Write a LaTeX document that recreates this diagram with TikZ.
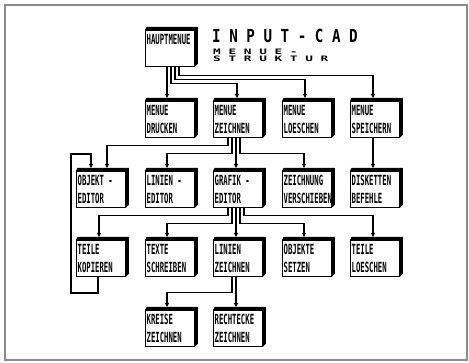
\documentclass[tikz,border=0pt]{standalone}
\usepackage{fontspec}
\newfontfamily\boxfont[FakeStretch=0.52]{DejaVu Sans Mono}
\newfontfamily\titlefont[FakeStretch=0.79]{DejaVu Sans Mono}
\newfontfamily\subfont[FakeStretch=1.7]{DejaVu Sans Mono}
\usetikzlibrary{arrows.meta}
\begin{document}
\begin{tikzpicture}[x=1pt,y=-1pt,
  menubox/.style={draw=black, line width=0.8pt, fill=white, minimum width=49pt,
    minimum height=36pt, inner sep=0pt, anchor=north west},
  lbl/.style={anchor=north west, inner sep=0pt, align=left,
    font=\boxfont\bfseries\fontsize{14}{18}\selectfont},
  conn/.style={line width=1.3pt, -{Triangle[length=4pt,width=4pt]}},
  frame/.style={draw=black!45, line width=1.2pt}]
\useasboundingbox (0,0) rectangle (469,363);
\draw[frame] (5,5) rectangle (467,360);

% boxes
\node[menubox] (hm) at (145,30) {};
\node[menubox] (drucken) at (145,101) {};
\node[menubox] (mz) at (213,101) {};
\node[menubox] (mloeschen) at (282,101) {};
\node[menubox] (speichern) at (350,101) {};
\node[menubox] (objekt) at (76,171) {};
\node[menubox] (ledit) at (145,171) {};
\node[menubox] (grafik) at (213,171) {};
\node[menubox] (verschieben) at (282,171) {};
\node[menubox] (disketten) at (350,171) {};
\node[menubox] (kopieren) at (76,240) {};
\node[menubox] (texte) at (145,240) {};
\node[menubox] (lzeichnen) at (213,240) {};
\node[menubox] (setzen) at (282,240) {};
\node[menubox] (tloeschen) at (350,240) {};
\node[menubox] (kreise) at (145,310) {};
\node[menubox] (rechtecke) at (213,310) {};

% shadows (thick top and right edges)
\foreach \n in {hm,drucken,mz,mloeschen,speichern,objekt,ledit,grafik,verschieben,disketten,kopieren,texte,lzeichnen,setzen,tloeschen,kreise,rechtecke}{
  \fill[black] (\n.north west) -- ([xshift=1.5pt,yshift=3pt]\n.north west)
    -- ([xshift=3pt,yshift=3pt]\n.north east) -- ([xshift=3pt,yshift=3pt]\n.south east)
    -- (\n.south east) -- (\n.north east) -- cycle;
}

% labels
\node[lbl] (hm-t) at ([xshift=1.5pt,yshift=-4pt]hm.north west) {HAUPTMENUE};
\node[lbl] (drucken-t) at ([xshift=1.5pt,yshift=-4pt]drucken.north west) {MENUE\\DRUCKEN};
\node[lbl] (mz-t) at ([xshift=1.5pt,yshift=-4pt]mz.north west) {MENUE\\ZEICHNEN};
\node[lbl] (mloeschen-t) at ([xshift=1.5pt,yshift=-4pt]mloeschen.north west) {MENUE\\LOESCHEN};
\node[lbl] (speichern-t) at ([xshift=1.5pt,yshift=-4pt]speichern.north west) {MENUE\\SPEICHERN};
\node[lbl] (objekt-t) at ([xshift=1.5pt,yshift=-4pt]objekt.north west) {OBJEKT -\\EDITOR};
\node[lbl] (ledit-t) at ([xshift=1.5pt,yshift=-4pt]ledit.north west) {LINIEN -\\EDITOR};
\node[lbl] (grafik-t) at ([xshift=1.5pt,yshift=-4pt]grafik.north west) {GRAFIK -\\EDITOR};
\node[lbl] (verschieben-t) at ([xshift=1.5pt,yshift=-4pt]verschieben.north west) {ZEICHNUNG\\VERSCHIEBEN};
\node[lbl] (disketten-t) at ([xshift=1.5pt,yshift=-4pt]disketten.north west) {DISKETTEN\\BEFEHLE};
\node[lbl] (kopieren-t) at ([xshift=1.5pt,yshift=-4pt]kopieren.north west) {TEILE\\KOPIEREN};
\node[lbl] (texte-t) at ([xshift=1.5pt,yshift=-4pt]texte.north west) {TEXTE\\SCHREIBEN};
\node[lbl] (lzeichnen-t) at ([xshift=1.5pt,yshift=-4pt]lzeichnen.north west) {LINIEN\\ZEICHNEN};
\node[lbl] (setzen-t) at ([xshift=1.5pt,yshift=-4pt]setzen.north west) {OBJEKTE\\SETZEN};
\node[lbl] (tloeschen-t) at ([xshift=1.5pt,yshift=-4pt]tloeschen.north west) {TEILE\\LOESCHEN};
\node[lbl] (kreise-t) at ([xshift=1.5pt,yshift=-4pt]kreise.north west) {KREISE\\ZEICHNEN};
\node[lbl] (rechtecke-t) at ([xshift=1.5pt,yshift=-4pt]rechtecke.north west) {RECHTECKE\\ZEICHNEN};

% title
\node[anchor=north west, inner sep=0pt, font=\titlefont\bfseries\fontsize{18}{18}\selectfont]
  (title) at (212,29) {I N P U T - C A D};
\node[anchor=north west, inner sep=0pt, align=left, font=\subfont\bfseries\fontsize{7.5}{6.5}\selectfont]
  (subtitle) at (213,49) {M E N U E -\\S T R U K T U R};

% connectors from HAUPTMENUE
\draw[conn] ([xshift=22pt]hm.south west) -- ([xshift=22pt,yshift=3pt]drucken.north west);
\draw[conn] ([xshift=26pt]hm.south west) -- ++(0,17) -| ([xshift=24pt,yshift=3pt]mz.north west);
\draw[conn] ([xshift=30pt]hm.south west) -- ++(0,13) -| ([xshift=23pt,yshift=3pt]mloeschen.north west);
\draw[conn] ([xshift=34pt]hm.south west) -- ++(0,9) -| ([xshift=23pt,yshift=3pt]speichern.north west);

% connectors from MENUE ZEICHNEN
\draw[conn] ([xshift=15pt]mz.south west) -- ++(0,8) -| ([xshift=31pt,yshift=3pt]objekt.north west);
\draw[conn] ([xshift=19pt]mz.south west) -- ++(0,16) -| ([xshift=22pt,yshift=3pt]ledit.north west);
\draw[conn] ([xshift=23pt]mz.south west) -- ([xshift=23pt,yshift=3pt]grafik.north west);
\draw[conn] ([xshift=27pt]mz.south west) -- ++(0,16) -| ([xshift=22pt,yshift=3pt]verschieben.north west);

% MENUE SPEICHERN -> DISKETTEN BEFEHLE
\draw[conn] ([xshift=23pt]speichern.south west) -- ([xshift=23pt,yshift=3pt]disketten.north west);

% connectors from GRAFIK-EDITOR
\draw[conn] ([xshift=15pt]grafik.south west) -- ++(0,8) -| ([xshift=23pt,yshift=3pt]kopieren.north west);
\draw[conn] ([xshift=19pt]grafik.south west) -- ++(0,16) -| ([xshift=22pt,yshift=3pt]texte.north west);
\draw[conn] ([xshift=23pt]grafik.south west) -- ([xshift=23pt,yshift=3pt]lzeichnen.north west);
\draw[conn] ([xshift=27pt]grafik.south west) -- ++(0,16) -| ([xshift=22pt,yshift=3pt]setzen.north west);
\draw[conn] ([xshift=31pt]grafik.south west) -- ++(0,8) -| ([xshift=23pt,yshift=3pt]tloeschen.north west);

% connectors from LINIEN ZEICHNEN
\draw[conn] ([xshift=19pt]lzeichnen.south west) -- ++(0,16) -| ([xshift=22pt,yshift=3pt]kreise.north west);
\draw[conn] ([xshift=23pt]lzeichnen.south west) -- ([xshift=23pt,yshift=3pt]rechtecke.north west);

% loop TEILE KOPIEREN -> OBJEKT-EDITOR
\coordinate (loopA) at (71,293);
\coordinate (loopB) at (71,154);
\draw[conn] ([xshift=22pt]kopieren.south west) |- (loopA) -- (loopB) -| ([xshift=15pt,yshift=3pt]objekt.north west);
\end{tikzpicture}
\end{document}
